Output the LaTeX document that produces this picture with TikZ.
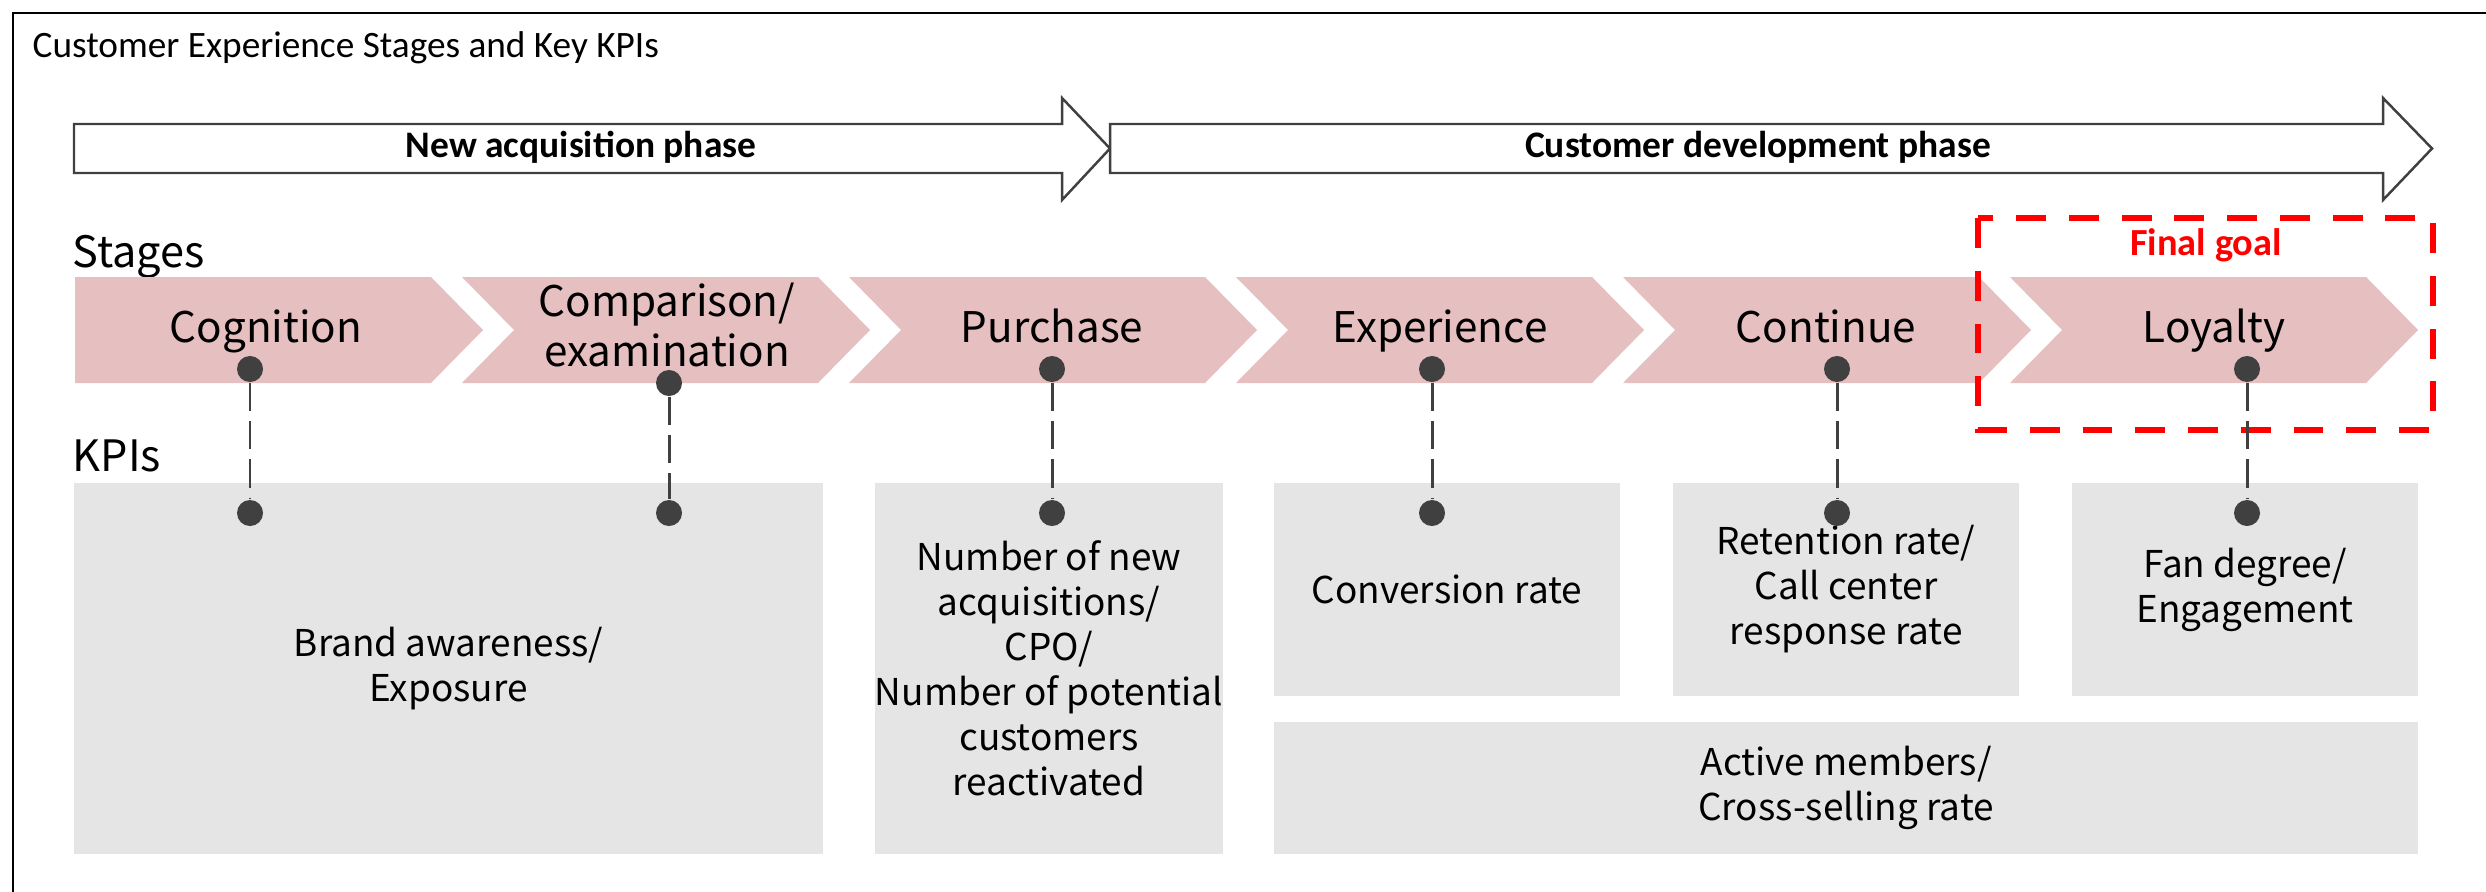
\documentclass[tikz,border=0pt]{standalone}
\usepackage{fontspec}
\setmainfont{Carlito}
\newfontfamily\gothic{Noto Sans CJK JP}
\definecolor{stagepink}{HTML}{E6BFC1}
\definecolor{kpigray}{HTML}{E5E5E5}
\definecolor{inkgray}{HTML}{404040}
\definecolor{goalred}{HTML}{FF0000}

\begin{document}
\begin{tikzpicture}[x=0.01cm, y=-0.01cm,
  outerframe/.style={draw=black, line width=0.7pt},
  phasearrow/.style={draw=inkgray, fill=white, line width=0.7pt, line join=miter, miter limit=10},
  phaselabel/.style={font=\fontsize{10.65pt}{12pt}\selectfont\bfseries, inner sep=0pt, anchor=base},
  titlelabel/.style={font=\fontsize{10.6pt}{12pt}\selectfont, inner sep=0pt, anchor=base west},
  rowlabel/.style={font=\gothic\fontsize{12.3pt}{14pt}\selectfont, inner sep=0pt, anchor=base west},
  stagechevron/.style={fill=stagepink},
  stagelabel/.style={font=\gothic\fontsize{12pt}{14.2pt}\selectfont, align=center, inner sep=0pt},
  kpibox/.style={fill=kpigray, inner sep=0pt, align=center, font=\gothic\fontsize{10.5pt}{12.8pt}\selectfont},
  stagedot/.style={circle, fill=inkgray, inner sep=0pt, minimum size=0.26cm},
  kpilink/.style={draw=inkgray, line width=0.85pt, dash pattern=on 8pt off 2.9pt},
  goalframe/.style={draw=goalred, line width=1.7pt, dash pattern=on 8.5pt off 6.5pt},
  goallabel/.style={font=\fontsize{10.9pt}{12pt}\selectfont\bfseries, text=goalred, inner sep=0pt, anchor=base},
]
\useasboundingbox (0,0) rectangle (2486,891);
\clip (0,0) rectangle (2486,891);
\fill[white] (0,0) rectangle (2486,891);

% outer frame, running past the right and bottom edges
\draw[outerframe] (13,13) rectangle (2520,930);

\node[titlelabel] (title) at (32,58) {Customer Experience Stages and Key KPIs};

% phase arrows
\draw[phasearrow] (74,124) -- (1062,124) -- (1062,98) -- (1110,148.5) -- (1062,200) -- (1062,173) -- (74,173) -- cycle;
\node[phaselabel] (acq) at (581,157) {New acquisition phase};
\draw[phasearrow] (1110,124) -- (2383,124) -- (2383,98) -- (2432,148.5) -- (2383,200) -- (2383,173) -- (1110,173) -- cycle;
\node[phaselabel] (dev) at (1758,158) {Customer development phase};

% row captions
\node[rowlabel] (stages) at (72,267) {Stages};
\node[rowlabel] (kpis) at (72,471) {KPIs};

% stage chevrons
\fill[stagechevron] (75,277) -- (431,277) -- (483,330) -- (431,383) -- (75,383) -- cycle;
\foreach \L in {462,849,1236,1623,2010}
  \fill[stagechevron] (\L,277) -- (\L+356,277) -- (\L+408,330) -- (\L+356,383) -- (\L,383) -- (\L+52,330) -- cycle;

\node[stagelabel, anchor=base] (cognition) at (266,342) {Cognition};
\node[stagelabel] (comparison) at (667,325) {Comparison/\\examination};
\node[stagelabel, anchor=base] (purchase) at (1052,342) {Purchase};
\node[stagelabel, anchor=base] (experience) at (1440,342) {Experience};
\node[stagelabel, anchor=base] (continue) at (1826,342) {Continue};
\node[stagelabel, anchor=base] (loyalty) at (2214,342) {Loyalty};

% final goal frame
\draw[goalframe] (1978,218) rectangle (2433,430);
\node[goallabel] (goal) at (2206,255) {Final goal};

% KPI boxes
\node[kpibox, minimum width=7.49cm, minimum height=3.71cm] (brand) at (448.5,668.5) {Brand awareness/\\Exposure};
\node[kpibox, minimum width=3.46cm, minimum height=3.71cm] (newacq) at (1049,668.5) {Number of new\\acquisitions/\\CPO/\\Number of potential\\customers\\reactivated};
\node[kpibox, minimum width=3.46cm, minimum height=2.13cm] (conv) at (1447,589.5) {Conversion rate};
\node[kpibox, minimum width=3.46cm, minimum height=2.13cm] (retention) at (1846,589.5) {Retention rate/\\Call center\\response rate};
\node[kpibox, minimum width=3.46cm, minimum height=2.13cm] (fan) at (2245,589.5) {Fan degree/\\Engagement};
\node[kpibox, minimum width=11.44cm, minimum height=1.32cm] (active) at (1846,788) {Active members/\\Cross-selling rate};

% stage dots and KPI dots
\node[stagedot] (d1) at (250,369) {};
\node[stagedot] (d2) at (669,383) {};
\node[stagedot] (d3) at (1052,369) {};
\node[stagedot] (d4) at (1432,369) {};
\node[stagedot] (d5) at (1837,369) {};
\node[stagedot] (d6) at (2247,369) {};
\node[stagedot] (k1) at (250,513) {};
\node[stagedot] (k2) at (669,513) {};
\node[stagedot] (k3) at (1052,513) {};
\node[stagedot] (k4) at (1432,513) {};
\node[stagedot] (k5) at (1837,513) {};
\node[stagedot] (k6) at (2247,513) {};

\foreach \i in {1,...,6}
  \draw[kpilink] (d\i) -- (k\i);
\end{tikzpicture}
\end{document}
